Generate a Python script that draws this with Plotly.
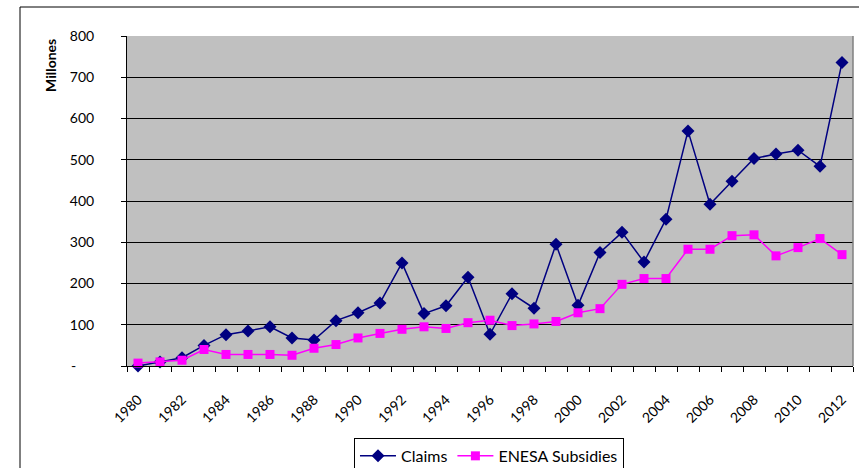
import plotly.graph_objects as go

years = [str(y) for y in range(1980, 2013)]

claims = [0, 10, 20, 50, 76, 85, 95, 68, 63, 110, 129, 153, 250, 127, 146, 215, 77,
          175, 140, 295, 147, 275, 324, 252, 356, 570, 392, 448, 503, 514, 523, 484, 736]

subsidies = [7, 10, 14, 40, 28, 28, 28, 26, 43, 52, 68, 79, 89, 95, 91, 105, 111,
             98, 102, 108, 129, 139, 198, 212, 212, 283, 283, 316, 318, 267, 287, 309, 270]

y_ticks = [0, 100, 200, 300, 400, 500, 600, 700, 800]
y_labels = ["-\u00a0\u00a0\u00a0\u00a0\u00a0"] + [str(v) for v in y_ticks[1:]]
x_labels = [y if int(y) % 2 == 0 else "" for y in years]

font = "Lato, Carlito, 'Open Sans', sans-serif"

fig = go.Figure()
fig.add_trace(go.Scatter(
    x=years, y=claims, name="Claims", mode="lines+markers",
    line=dict(color="#000080", width=1.5),
    marker=dict(symbol="diamond", size=10, color="#000080"),
    cliponaxis=False,
))
fig.add_trace(go.Scatter(
    x=years, y=subsidies, name="ENESA Subsidies", mode="lines+markers",
    line=dict(color="#FF00FF", width=1.5),
    marker=dict(symbol="square", size=9, color="#FF00FF"),
    cliponaxis=False,
))

fig.update_layout(
    width=859, height=468,
    margin=dict(l=127, r=6, t=36, b=102, autoexpand=False),
    paper_bgcolor="white",
    plot_bgcolor="#C0C0C0",
    font=dict(family=font, size=14, color="black"),
    showlegend=True,
    legend=dict(
        orientation="h", x=0.4986, xanchor="center", y=-0.218, yanchor="top",
        bordercolor="black", borderwidth=1, font=dict(size=16),
        itemwidth=36,
    ),
    xaxis=dict(
        type="category", range=[-0.5, 32.5],
        tickmode="array", tickvals=years, ticktext=x_labels,
        tickson="boundaries", ticks="outside", ticklen=5, tickcolor="black",
        tickangle=-45, ticklabelstandoff=19, automargin=False,
        showgrid=False, showline=True, linecolor="black", linewidth=1,
        zeroline=False,
    ),
    yaxis=dict(
        range=[0, 800], tickmode="array", tickvals=y_ticks, ticktext=y_labels,
        ticks="outside", ticklen=5, tickcolor="black", ticklabelstandoff=24,
        automargin=False,
        showgrid=True, gridcolor="black", gridwidth=1,
        showline=True, linecolor="black", linewidth=1, zeroline=False,
    ),
    shapes=[
        dict(type="line", xref="paper", yref="paper", x0=1, x1=1, y0=0, y1=1,
             line=dict(color="#808080", width=1.5)),
        dict(type="rect", xref="paper", yref="paper",
             x0=(20 - 127) / 726, x1=(864 - 127) / 726,
             y0=(366 - 472) / 330, y1=(366 - 7) / 330,
             line=dict(color="black", width=1)),
    ],
    annotations=[
        dict(text="<b>Millones</b>", textangle=-90, xref="paper", yref="paper",
             x=(50 - 127) / 726, y=(366 - 66) / 330, xanchor="center", yanchor="middle",
             showarrow=False, font=dict(size=14)),
    ],
)

fig.write_html("out.html", config={"displayModeBar": False},
               post_script="document.body.style.margin='0';")
